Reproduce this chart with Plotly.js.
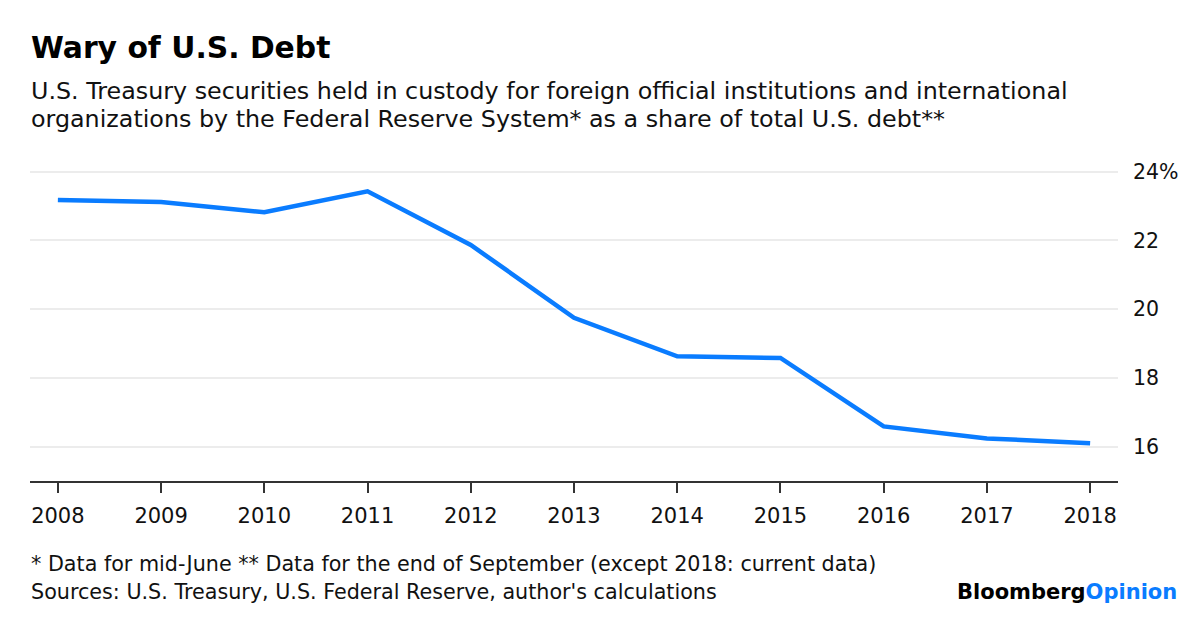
<!DOCTYPE html>
<html>
<head>
<meta charset="utf-8">
<script src="https://cdn.plot.ly/plotly-3.0.1.min.js"></script>
<style>html,body{margin:0;padding:0;background:#fff;}#chart{width:1200px;height:619px;}</style>
</head>
<body>
<div id="chart"></div>
<script>
const years = [2008, 2009, 2010, 2011, 2012, 2013, 2014, 2015, 2016, 2017, 2018];
const sharePct = [23.18, 23.12, 22.82, 23.43, 21.87, 19.75, 18.63, 18.58, 16.59, 16.24, 16.10];
const yTickVals = [16, 18, 20, 22, 24];
const yTickText = ['16', '18', '20', '22', '24%'];

const FONT = '"DejaVu Sans", "Liberation Sans", sans-serif';
const plotTop = 158, plotBottom = 481, plotLeft = 30, plotRight = 1118;
const ph = plotBottom - plotTop, pw = plotRight - plotLeft;
const py = v => (plotBottom - v) / ph;
const px = v => (v - plotLeft) / pw;

const trace = {
  x: years, y: sharePct, type: 'scatter', mode: 'lines',
  line: {color: '#0a7cff', width: 4.5},
  hoverinfo: 'skip'
};

const layout = {
  width: 1200, height: 619,
  margin: {l: plotLeft, r: 1200 - plotRight, t: plotTop, b: 619 - plotBottom, pad: 0},
  paper_bgcolor: '#ffffff', plot_bgcolor: '#ffffff',
  showlegend: false,
  font: {family: FONT, color: '#111'},
  xaxis: {
    range: [2007.73, 2018.27],
    tickvals: years, ticktext: years.map(String),
    showgrid: false, zeroline: false,
    showline: true, linecolor: '#333', linewidth: 2,
    ticks: 'outside', ticklen: 10, tickwidth: 2, tickcolor: '#333',
    ticklabelstandoff: 5,
    tickfont: {family: FONT, size: 21, color: '#111'},
    fixedrange: true
  },
  yaxis: {
    side: 'right', range: [15, 24.4],
    tickvals: yTickVals, ticktext: yTickText,
    showgrid: true, gridcolor: '#ececec', gridwidth: 2,
    zeroline: false, showline: false, ticks: '',
    ticklabelstandoff: 14,
    tickfont: {family: FONT, size: 20.5, color: '#111'},
    fixedrange: true
  },
  annotations: [
    {xref: 'paper', yref: 'paper', x: px(29), y: py(47), xanchor: 'left', yanchor: 'middle',
     text: '<b>Wary of U.S. Debt</b>', showarrow: false, font: {family: FONT, size: 29.8, color: '#000'}},
    {xref: 'paper', yref: 'paper', x: px(29), y: py(91), xanchor: 'left', yanchor: 'middle',
     text: 'U.S. Treasury securities held in custody for foreign official institutions and international', showarrow: false, font: {family: FONT, size: 23.8, color: '#111'}},
    {xref: 'paper', yref: 'paper', x: px(29), y: py(119), xanchor: 'left', yanchor: 'middle',
     text: 'organizations by the Federal Reserve System* as a share of total U.S. debt**', showarrow: false, font: {family: FONT, size: 23.8, color: '#111'}},
    {xref: 'paper', yref: 'paper', x: px(29), y: py(564), xanchor: 'left', yanchor: 'middle',
     text: '* Data for mid-June ** Data for the end of September (except 2018: current data)', showarrow: false, font: {family: FONT, size: 20.7, color: '#111'}},
    {xref: 'paper', yref: 'paper', x: px(29), y: py(592), xanchor: 'left', yanchor: 'middle',
     text: "Sources: U.S. Treasury, U.S. Federal Reserve, author's calculations", showarrow: false, font: {family: FONT, size: 20.7, color: '#111'}},
    {xref: 'paper', yref: 'paper', x: px(1179), y: py(592), xanchor: 'right', yanchor: 'middle',
     text: '<b>Bloomberg<span style="color:#0a7cff">Opinion</span></b>', showarrow: false, font: {family: FONT, size: 21, color: '#000'}}
  ]
};

Plotly.newPlot('chart', [trace], layout, {staticPlot: true, displayModeBar: false});
</script>
</body>
</html>
